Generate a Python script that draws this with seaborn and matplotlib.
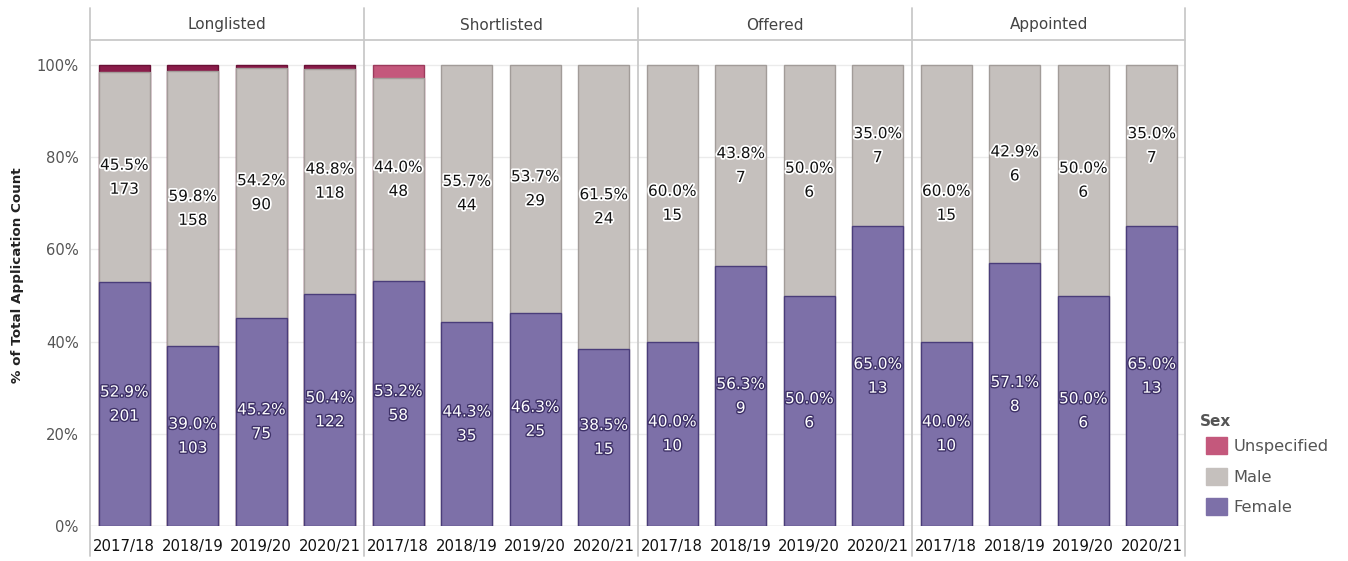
import matplotlib
matplotlib.use("Agg")
import matplotlib.pyplot as plt
import matplotlib.patheffects as pe
from matplotlib.patches import Patch
from matplotlib.lines import Line2D
import pandas as pd
import seaborn as sns

# Recruitment stages and academic years
stages = ["Longlisted", "Shortlisted", "Offered", "Appointed"]
years = ["2017/18", "2018/19", "2019/20", "2020/21"]

# Share of applications by sex (%), stage-major order (4 years per stage)
female_pct = [52.9, 39.0, 45.2, 50.4,
              53.2, 44.3, 46.3, 38.5,
              40.0, 56.3, 50.0, 65.0,
              40.0, 57.1, 50.0, 65.0]
male_pct = [45.5, 59.8, 54.2, 48.8,
            44.0, 55.7, 53.7, 61.5,
            60.0, 43.8, 50.0, 35.0,
            60.0, 42.9, 50.0, 35.0]
unspecified_pct = [1.6, 1.2, 0.6, 0.8,
                   2.8, 0.0, 0.0, 0.0,
                   0.0, 0.0, 0.0, 0.0,
                   0.0, 0.0, 0.0, 0.0]

# Application counts
female_n = [201, 103, 75, 122,
            58, 35, 25, 15,
            10, 9, 6, 13,
            10, 8, 6, 13]
male_n = [173, 158, 90, 118,
          48, 44, 29, 24,
          15, 7, 6, 7,
          15, 6, 6, 7]

rows = []
for s_i, stage in enumerate(stages):
    for y_i, yr in enumerate(years):
        k = s_i * 4 + y_i
        rows.append(dict(stage=stage, year=yr,
                         female=female_pct[k], male=male_pct[k],
                         unspec=unspecified_pct[k],
                         female_n=female_n[k], male_n=male_n[k]))
df = pd.DataFrame(rows)
df["female_top"] = df["female"]
df["male_top"] = df["female"] + df["male"]
df["total_top"] = df["male_top"] + df["unspec"]

FEMALE = "#7d70a8"
FEMALE_EDGE = "#4a3d7a"
MALE = "#c5c0bd"
MALE_EDGE = "#a29c99"
UNSPEC = "#c4587c"
UNSPEC_EDGE = "#9c3a5c"
UNSPEC_DARK = "#8a1c4a"
LINE = "#c9c9c9"

sns.set_theme(style="white")
plt.rcParams["font.family"] = ["DejaVu Sans"]

W, H = 1348, 561
fig = plt.figure(figsize=(W / 100, H / 100), dpi=100)


def fx(px):
    return px / W


def fy(py):
    return 1 - py / H


panel_left = [90, 364, 638, 912]
panel_w = 274
zero_px, full_px, top_px = 526, 65, 40
ymax = (zero_px - top_px) / (zero_px - full_px) * 100

for s_i, stage in enumerate(stages):
    ax = fig.add_axes([fx(panel_left[s_i]), fy(zero_px),
                       fx(panel_w), (zero_px - top_px) / H])
    sub = df[df["stage"] == stage]
    unspec_rows = sub[sub["unspec"] > 0]
    u_face = UNSPEC_DARK if stage == "Longlisted" else UNSPEC
    u_edge = "#6a1035" if stage == "Longlisted" else UNSPEC_EDGE

    if len(unspec_rows):
        sns.barplot(data=unspec_rows, x="year", y="total_top", order=years,
                    color=u_face, saturation=1, width=0.74, errorbar=None,
                    edgecolor=u_edge, linewidth=1, ax=ax)
    sns.barplot(data=sub, x="year", y="male_top", order=years,
                color=MALE, saturation=1, width=0.74, errorbar=None,
                edgecolor=MALE_EDGE, linewidth=1, ax=ax)
    sns.barplot(data=sub, x="year", y="female_top", order=years,
                color=FEMALE, saturation=1, width=0.74, errorbar=None,
                edgecolor=FEMALE_EDGE, linewidth=1, ax=ax)

    for i, (_, r) in enumerate(sub.iterrows()):
        ax.text(i, r["female"] + r["male"] / 2,
                f"{r['male']:.1f}%\n{r['male_n']}",
                ha="center", va="center", fontsize=11, color="#111111",
                linespacing=1.75,
                path_effects=[pe.withStroke(linewidth=2.5, foreground="white")])
        ax.text(i, r["female"] / 2,
                f"{r['female']:.1f}%\n{r['female_n']}",
                ha="center", va="center", fontsize=11, color="white",
                linespacing=1.75,
                path_effects=[pe.withStroke(linewidth=2, foreground="#3e3168")])

    ax.set_xlim(-0.5, 3.5)
    ax.set_ylim(0, ymax)
    ax.set_xlabel("")
    ax.set_ylabel("")
    for sp in ax.spines.values():
        sp.set_visible(False)
    ax.axhline(0, color="#cfcfcf", lw=1, zorder=0)
    ax.set_yticks([0, 20, 40, 60, 80, 100])
    ax.grid(axis="y", color="#ebebeb", lw=1)
    ax.grid(axis="x", visible=False)
    ax.set_axisbelow(True)
    ax.tick_params(axis="x", length=0, pad=9, labelsize=10.7, colors="#111111")
    if s_i == 0:
        ax.set_yticklabels([f"{v}%" for v in [0, 20, 40, 60, 80, 100]])
        ax.tick_params(axis="y", length=0, pad=8, labelsize=10.6, colors="#555555")
    else:
        ax.tick_params(axis="y", length=0, labelleft=False)
    ax.set_xticks([0.5, 1.5, 2.5], minor=True)
    ax.tick_params(axis="x", which="minor", length=4, width=0.8, color="#d5d5d5",
                   direction="out")

    fig.text(fx(panel_left[s_i] + panel_w / 2), fy(25), stage,
             ha="center", va="center", fontsize=11, color="#444444")

# Facet frame lines
for x in panel_left + [1185]:
    fig.add_artist(Line2D([fx(x), fx(x)], [fy(8), fy(556)], color=LINE, lw=1.3))
fig.add_artist(Line2D([fx(90), fx(1185)], [fy(40), fy(40)], color=LINE, lw=1.3))

fig.text(fx(18), fy(275), "% of Total Application Count", rotation=90,
         ha="center", va="center", fontsize=9.7, fontweight="bold", color="#222222")

# Legend
fig.text(fx(1200), fy(421), "Sex", ha="left", va="center", fontsize=11,
         fontweight="bold", color="#555555")
handles = [Patch(facecolor=UNSPEC, edgecolor=UNSPEC),
           Patch(facecolor=MALE, edgecolor=MALE),
           Patch(facecolor=FEMALE, edgecolor=FEMALE)]
fig.legend(handles, ["Unspecified", "Male", "Female"], loc="upper left",
           bbox_to_anchor=(fx(1206), fy(437)), frameon=False, fontsize=11.7,
           labelcolor="#555555", handlelength=1.3, handleheight=1.25,
           handletextpad=0.4, labelspacing=0.82, borderpad=0, borderaxespad=0)

fig.savefig("out.png", dpi=100)
